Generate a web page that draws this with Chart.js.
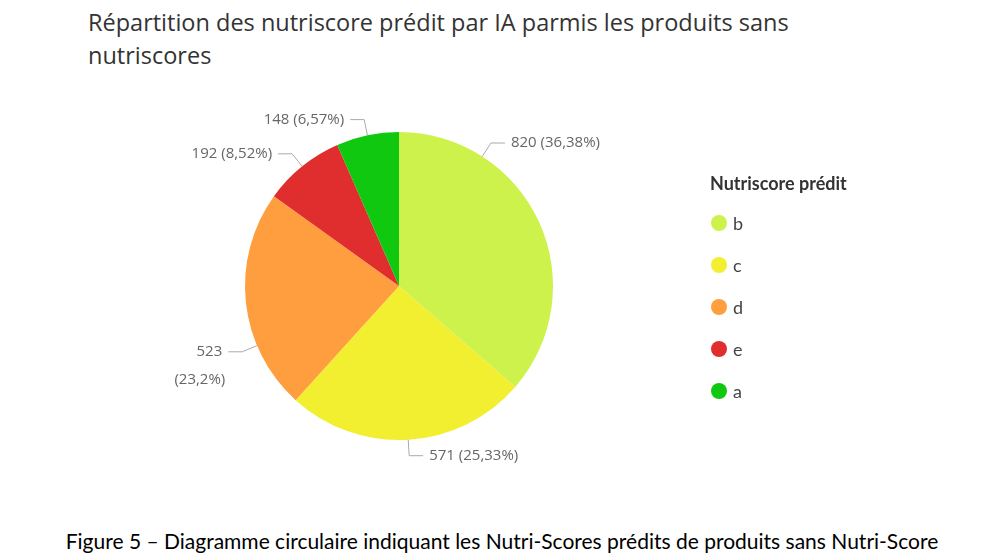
<!DOCTYPE html>
<html><head><meta charset="utf-8">
<script src="https://cdn.jsdelivr.net/npm/chart.js@4"></script>
<style>
body{margin:0;width:1004px;height:558px;background:#fff;position:relative;overflow:hidden;font-family:"Open Sans",sans-serif}
#title{position:absolute;left:88px;top:6px;font-size:23.5px;line-height:33px;color:#333;width:805px;font-weight:500}
#wrap{position:absolute;left:0;top:0;width:1004px;height:500px}
#legend{position:absolute;left:710px;top:172px;color:#444}
#legend .t{font-weight:bold;font-size:18px;color:#333;margin-bottom:8px;font-family:Lato,sans-serif}
#legend .i{height:42px;font-size:18px;display:flex;align-items:center;font-family:Lato,sans-serif;margin-left:1px}
#legend .d{width:16px;height:16px;border-radius:50%;margin-right:6px}
#cap{position:absolute;left:0;width:1004px;top:528px;text-align:center;font-family:Lato,sans-serif;font-weight:400;font-size:21px;color:#000}
</style></head><body>
<div id="title">Répartition des nutriscore prédit par IA parmis les produits sans nutriscores</div>
<div id="wrap"><canvas id="c"></canvas></div>
<div id="legend"><div class="t">Nutriscore prédit</div></div>
<div id="cap">Figure 5 – Diagramme circulaire indiquant les Nutri-Scores prédits de produits sans Nutri-Score</div>
<script>
const categories=["b","c","d","e","a"];
const values=[820,571,523,192,148];
const colors=["#CDF24B","#F2EE30","#FE9E3E","#E02D2D","#10C810"];
const labelAnchor=[0.25,0.5,0.3,0.5,0.5];
const total=values.reduce((a,b)=>a+b,0);
function pctText(v){let p=(v/total*100).toFixed(2).replace(/0+$/,'').replace(/\.$/,'');return p.replace('.',',')+'%';}
const leg=document.getElementById('legend');
categories.forEach((c,i)=>{const d=document.createElement('div');d.className='i';d.innerHTML='<span class="d" style="background:'+colors[i]+'"></span>'+c;leg.appendChild(d);});
const labelPlugin={id:'lbl',afterDatasetsDraw(chart){
 const ctx=chart.ctx;const meta=chart.getDatasetMeta(0);
 ctx.save();ctx.font='15px "Open Sans", sans-serif';ctx.fillStyle='#666';ctx.strokeStyle='#aaa';ctx.lineWidth=1;
 meta.data.forEach((arc,i)=>{
  const a=arc.startAngle+(arc.endAngle-arc.startAngle)*labelAnchor[i];const r=arc.outerRadius;
  const x0=arc.x+Math.cos(a)*r,y0=arc.y+Math.sin(a)*r;
  const x1=arc.x+Math.cos(a)*(r+16),y1=arc.y+Math.sin(a)*(r+16);
  const right=Math.cos(a)>=0;const x2=x1+(right?14:-14);
  ctx.beginPath();ctx.moveTo(x0,y0);ctx.lineTo(x1,y1);ctx.lineTo(x2,y1);ctx.stroke();
  const t1=String(values[i]),t2='('+pctText(values[i])+')';
  ctx.textBaseline='middle';ctx.textAlign=right?'left':'right';
  const tx=x2+(right?6:-6);
  if(!right&&Math.abs(Math.sin(a))<0.5){ctx.fillText(t1,tx,y1);ctx.fillText(t2,tx+3,y1+28);}
  else ctx.fillText(t1+' '+t2,tx,y1);
 });ctx.restore();}};
new Chart(document.getElementById('c'),{type:'pie',
 data:{labels:categories,datasets:[{data:values,backgroundColor:colors,borderWidth:0}]},
 options:{responsive:true,maintainAspectRatio:false,animation:false,
  layout:{padding:{top:132,bottom:60,left:245,right:451}},
  plugins:{legend:{display:false},tooltip:{enabled:false}}},
 plugins:[labelPlugin]});
</script></body></html>
